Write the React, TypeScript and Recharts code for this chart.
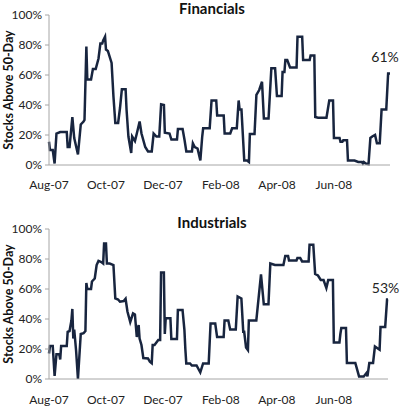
import React from 'react';
import { LineChart, Line, XAxis, YAxis } from 'recharts';

// days since 1 Aug 2007, share of stocks above their 50-day average (%)
const finDays = [0, 1, 4, 6, 8, 12, 19, 20, 22, 25, 27, 31, 34, 37, 38, 40, 41, 45, 47, 50, 53, 55, 57, 58, 60, 61, 63, 67, 69, 71, 74, 76, 78, 82, 83, 85, 88, 89, 92, 94, 97, 99, 103, 106, 110, 112, 115, 118, 120, 123, 124, 129, 131, 137, 138, 143, 145, 147, 153, 154, 156, 159, 162, 164, 165, 172, 174, 179, 180, 187, 188, 194, 196, 201, 203, 204, 206, 209, 212, 214, 215, 220, 222, 225, 228, 230, 235, 238, 242, 244, 249, 250, 252, 253, 255, 258, 265, 266, 271, 272, 279, 280, 284, 285, 288, 297, 300, 304, 305, 311, 312, 314, 315, 319, 320, 327, 331, 335, 336, 337, 339, 342, 344, 346, 349, 351, 354, 356, 361, 363, 365];
const finPct = [15.5, 10, 10, 1, 21, 22, 22, 12, 12, 32, 18, 7, 27, 29, 30, 79, 57, 57, 64, 64, 71, 81, 81, 83, 85.5, 77, 76, 68, 45.5, 28, 28, 38, 50.5, 50.5, 37, 19, 8, 19, 16, 21, 29, 21, 12, 9, 9, 21, 19, 19, 40.5, 40, 21.5, 21, 17, 17, 24, 24, 17, 9, 9, 14.5, 12, 11, 3, 19, 24.5, 24.5, 43, 43, 33, 33, 21, 21, 24.5, 24.5, 43, 37, 37, 3, 3, 2, 20.7, 20.7, 46.7, 50, 55.5, 31, 31, 64.5, 64.5, 46, 46, 62, 62, 70, 70, 65, 65, 85.5, 85.5, 70, 70, 73, 73, 32, 31.5, 31.5, 43, 43, 18, 18, 15.5, 15.5, 16.5, 16.5, 3, 3, 2, 2, 1, 2, 1, 0.5, 18, 19, 20, 14.5, 14.5, 37, 37, 61, 61];

const indDays = [0, 1, 4, 6, 8, 11, 12, 13, 19, 20, 22, 24, 25, 26, 27, 29, 31, 34, 37, 39, 40, 41, 45, 46, 49, 51, 53, 56, 58, 59, 61, 62, 65, 69, 71, 74, 76, 80, 82, 84, 87, 90, 92, 94, 96, 97, 99, 101, 106, 108, 110, 111, 113, 117, 119, 120, 123, 124, 125, 130, 131, 137, 138, 143, 145, 146, 147, 151, 153, 158, 162, 165, 171, 173, 178, 180, 187, 188, 192, 194, 200, 202, 206, 208, 209, 211, 213, 214, 222, 227, 230, 235, 237, 242, 251, 253, 256, 257, 265, 266, 269, 271, 278, 279, 283, 285, 288, 291, 294, 297, 299, 304, 305, 311, 312, 313, 318, 319, 328, 332, 337, 340, 341, 343, 347, 349, 354, 355, 360, 362, 363];
const indPct = [17, 22, 22, 2, 16.5, 16.5, 13, 22, 22, 31.5, 32, 39, 46.7, 27, 33, 19, 0, 30, 30.5, 32, 64, 60, 60, 65, 67, 76, 78.7, 78, 77, 90.4, 90.4, 77, 77, 76, 53.7, 53, 51.5, 52, 53.5, 45, 38, 43.7, 43, 28, 36, 27, 22.7, 14, 13.7, 11.5, 10.5, 22.7, 22.7, 26, 26, 71, 71, 30, 40.5, 40.5, 26.7, 26.7, 46, 46, 32.7, 20, 10.4, 10.4, 9, 9, 4.4, 10.4, 10.4, 37, 37, 28, 28, 39, 39, 33, 33, 55, 53.7, 31.5, 31.5, 21, 19.3, 39, 39, 69.8, 49.8, 49.8, 77, 76, 76, 82, 82, 79, 79, 80.7, 80.7, 78.4, 78.4, 89.5, 89.5, 70, 69, 66, 66, 60.6, 66, 66, 24.4, 24.4, 30, 34, 34, 10.7, 10.7, 1.7, 1.7, 4, 1.7, 10.7, 10.7, 21.7, 19.5, 34.7, 34.7, 53, 53];

const tickDays = [0, 61, 122, 184, 244, 305];
const tickLabels = ['Aug-07', 'Oct-07', 'Dec-07', 'Feb-08', 'Apr-08', 'Jun-08'];
const pctTicks = [0, 20, 40, 60, 80, 100];

const FONT = 'Lato, "Liberation Sans", sans-serif';
const LINE = '#18253f';
const AXIS = '#a6a6a6';

const toRows = (days: number[], pct: number[]) => days.map((day, i) => ({ day, pct: pct[i] }));

type PanelProps = {
  title: string;
  days: number[];
  pct: number[];
  height: number;
  top: number;
  right: number;
  maxDay: number;
  titleY: number;
  yLabelY: number;
  tickGap: number;
  endDx: number;
  endDy: number;
};

const Panel = (p: PanelProps) => {
  const rows = toRows(p.days, p.pct);
  const last = rows.length - 1;

  // only the final point gets its value printed
  const endLabel = (props: any) => {
    if (props.index !== last) return null;
    return (
      <text x={props.x + p.endDx} y={props.y + p.endDy} textAnchor="middle" fontSize={14} fill="#222" fontFamily={FONT}>
        {`${Math.round(props.value)}%`}
      </text>
    );
  };

  return (
    <LineChart width={400} height={p.height} data={rows} margin={{ top: p.top, right: p.right, left: 0, bottom: p.height - p.top - 150 - 30 }}>
      <XAxis
        type="number"
        dataKey="day"
        domain={[0, p.maxDay]}
        ticks={tickDays}
        tickFormatter={(d: number) => tickLabels[tickDays.indexOf(d)]}
        tickLine={false}
        tickMargin={p.tickGap}
        axisLine={{ stroke: AXIS }}
        tick={{ fill: '#222', fontSize: 12, fontFamily: FONT }}
        height={30}
        interval={0}
      />
      <YAxis
        domain={[0, 100]}
        ticks={pctTicks}
        tickFormatter={(v: number) => `${v}%`}
        width={49}
        tickSize={4}
        tickMargin={3}
        axisLine={{ stroke: AXIS }}
        tickLine={{ stroke: AXIS }}
        tick={{ fill: '#222', fontSize: 12, fontFamily: FONT }}
        interval={0}
      />
      <Line
        type="linear"
        dataKey="pct"
        stroke={LINE}
        strokeWidth={2.5}
        dot={false}
        label={endLabel}
        isAnimationActive={false}
      />
      <text x={212} y={p.titleY} textAnchor="middle" fontSize={15} fontWeight="bold" fill="#111" fontFamily={FONT}>
        {p.title}
      </text>
      <text
        x={12.5}
        y={p.yLabelY}
        transform={`rotate(-90, 12.5, ${p.yLabelY})`}
        textAnchor="middle"
        fontSize={12.5}
        fontWeight="bold"
        fill="#111"
        fontFamily={FONT}
      >
        Stocks Above 50-Day
      </text>
    </LineChart>
  );
};

export default function App() {
  return (
    <div style={{ position: 'absolute', left: 0, top: 0, width: 400, height: 409, background: '#fff' }}>
      <Panel title="Financials" days={finDays} pct={finPct} height={205} top={15} right={10} maxDay={365}
        titleY={14} yLabelY={90} tickGap={9} endDx={-5} endDy={-11.5} />
      <Panel title="Industrials" days={indDays} pct={indPct} height={204} top={24} right={12} maxDay={363}
        titleY={23} yLabelY={99} tickGap={10} endDx={-2.5} endDy={-7} />
    </div>
  );
}
